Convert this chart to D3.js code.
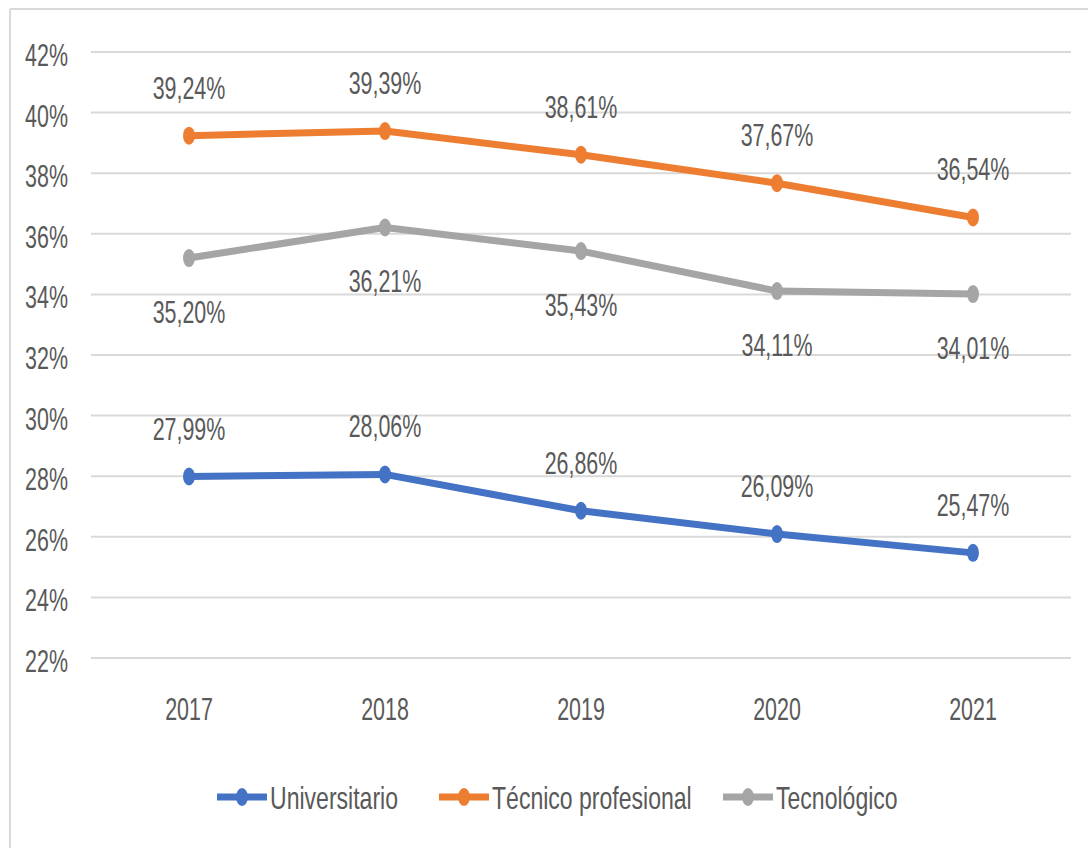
<!DOCTYPE html>
<html><head><meta charset="utf-8">
<script src="https://cdn.jsdelivr.net/npm/d3@7"></script>
<style>body{margin:0;background:#fff}svg{display:block}</style>
</head><body>
<script>
const years = ["2017","2018","2019","2020","2021"];
const universitario = [27.99, 28.06, 26.86, 26.09, 25.47];
const tecnicoProfesional = [39.24, 39.39, 38.61, 37.67, 36.54];
const tecnologico = [35.20, 36.21, 35.43, 34.11, 34.01];
const yTicks = [22,24,26,28,30,32,34,36,38,40,42];
const seriesNames = ["Universitario","Técnico profesional","Tecnológico"];

const series = [
  {name: seriesNames[0], values: universitario, color: "#4472C4", pos: "above"},
  {name: seriesNames[1], values: tecnicoProfesional, color: "#ED7D31", pos: "above"},
  {name: seriesNames[2], values: tecnologico, color: "#A5A5A5", pos: "below"}
];

const W = 1088, H = 848;
const svg = d3.select("body").append("svg").attr("width", W).attr("height", H);
const FONT = "'Liberation Sans Narrow', 'Liberation Sans', sans-serif";
const TXT = "#595959";

// frame
svg.append("line").attr("x1",10).attr("x2",10).attr("y1",9).attr("y2",H).attr("stroke","#d9d9d9").attr("stroke-width",2);
svg.append("line").attr("x1",10).attr("x2",W).attr("y1",9).attr("y2",9).attr("stroke","#d9d9d9").attr("stroke-width",2);

const x = d3.scaleBand().domain(years).range([91, 1071]);
const y = d3.scaleLinear().domain([22, 42]).range([658, 52]);
const xc = d => x(d) + x.bandwidth()/2;

function txt(g, str, tx, ty, anchor, sx) {
  return g.append("text")
    .attr("transform", `translate(${tx},${ty}) scale(${sx || 0.67},1)`)
    .attr("text-anchor", anchor)
    .attr("font-family", FONT)
    .attr("font-size", 32)
    .attr("fill", TXT)
    .text(str);
}

// gridlines
const grid = svg.append("g");
grid.selectAll("line").data(yTicks).join("line")
  .attr("x1", 91).attr("x2", 1071)
  .attr("y1", d => y(d)).attr("y2", d => y(d))
  .attr("stroke", "#d9d9d9").attr("stroke-width", 2);

// y labels
const yl = svg.append("g");
yTicks.forEach(t => txt(yl, t + "%", 68, y(t) + 14, "end"));

// x labels
const xl = svg.append("g");
years.forEach(yr => txt(xl, yr, xc(yr), 720, "middle"));

// lines
const line = d3.line().x((d,i) => xc(years[i])).y(d => y(d));
series.forEach(s => {
  const g = svg.append("g");
  g.append("path").datum(s.values).attr("d", line)
    .attr("fill","none").attr("stroke", s.color).attr("stroke-width", 7)
    .attr("stroke-linejoin","round");
  g.selectAll("ellipse").data(s.values).join("ellipse")
    .attr("cx", (d,i) => xc(years[i])).attr("cy", d => y(d))
    .attr("rx", 6).attr("ry", 9).attr("fill", s.color);
  s.values.forEach((v,i) => {
    const ly = s.pos === "above" ? y(v) - 37 : y(v) + 65;
    txt(g, v.toFixed(2).replace(".", ",") + "%", xc(years[i]), ly, "middle");
  });
});

// legend
const legendX = [217, 439, 723];
const lg = svg.append("g");
series.forEach((s,i) => {
  const lx = legendX[i], ly = 797;
  lg.append("line").attr("x1", lx).attr("x2", lx + 50).attr("y1", ly).attr("y2", ly)
    .attr("stroke", s.color).attr("stroke-width", 7);
  lg.append("ellipse").attr("cx", lx + 25).attr("cy", ly).attr("rx", 6).attr("ry", 9).attr("fill", s.color);
  txt(lg, s.name, lx + 53, ly + 12, "start", 0.72);
});
</script>
</body></html>
